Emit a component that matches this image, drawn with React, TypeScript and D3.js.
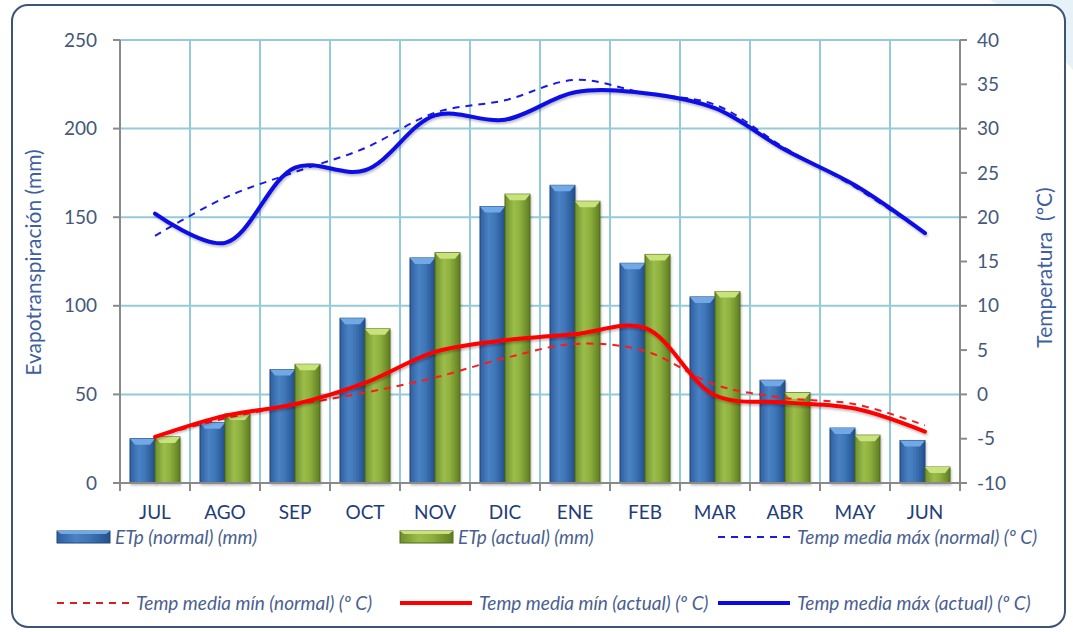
import React, { useRef, useEffect } from "react";
import * as d3 from "d3";

const months = ["JUL", "AGO", "SEP", "OCT", "NOV", "DIC", "ENE", "FEB", "MAR", "ABR", "MAY", "JUN"];
const etpNormal = [25, 34, 64, 93, 127, 156, 168, 124, 105, 58, 31, 24];
const etpActual = [26, 39, 67, 87, 130, 163, 159, 129, 108, 51, 27, 9];
const tMaxNormal = [17.9, 22.2, 25.1, 27.8, 31.8, 33.2, 35.5, 34.0, 32.7, 27.8, 23.4, 18.2];
const tMaxActual = [20.4, 17.1, 25.6, 25.3, 31.5, 31.0, 34.1, 34.0, 32.3, 27.6, 23.6, 18.2];
const tMinNormal = [-4.8, -2.7, -1.2, 0.2, 1.9, 4.1, 5.7, 4.9, 1.1, -0.4, -1.1, -3.5];
const tMinActual = [-4.8, -2.4, -1.1, 1.3, 4.8, 6.1, 6.8, 7.5, -0.1, -0.9, -1.6, -4.2];
const leftTicks = [0, 50, 100, 150, 200, 250];
const rightTicks = [-10, -5, 0, 5, 10, 15, 20, 25, 30, 35, 40];

const W = 1073;
const H = 632;
const margin = { top: 40, left: 120, right: 113, bottom: 149 };
const font = "Lato, 'Open Sans', sans-serif";
const textColor = "#44587a";

const App = () => {
  const ref = useRef<HTMLDivElement>(null);

  useEffect(() => {
    const root = d3.select(ref.current);
    root.selectAll("*").remove();

    const svg = root
      .append("svg")
      .attr("width", W)
      .attr("height", H)
      .style("position", "absolute")
      .style("left", 0)
      .style("top", 0)
      .style("background", "#ffffff");

    const defs = svg.append("defs");
    const grad = (id: string, stops: [number, string][]) => {
      const g = defs.append("linearGradient").attr("id", id).attr("x1", 0).attr("x2", 1).attr("y1", 0).attr("y2", 0);
      stops.forEach(([o, c]) => g.append("stop").attr("offset", o).attr("stop-color", c));
    };
    grad("gBlue", [[0, "#2f5f9f"], [0.35, "#4a82c4"], [0.6, "#3f76b8"], [1, "#24508c"]]);
    grad("gGreen", [[0, "#6f8f2c"], [0.35, "#9bbd4a"], [0.6, "#8eb03e"], [1, "#5f7d22"]]);
    const shadow = defs.append("filter").attr("id", "shadow").attr("x", "-10%").attr("y", "-10%").attr("width", "120%").attr("height", "130%");
    shadow.append("feDropShadow").attr("dx", 1).attr("dy", 2).attr("stdDeviation", 1.2).attr("flood-color", "#000").attr("flood-opacity", 0.25);

    // background decoration and frame
    svg.append("path")
      .attr("d", "M990,0 L1073,0 L1073,70 Q1040,30 990,0 Z")
      .attr("fill", "#e6f2f8");
    svg.append("rect")
      .attr("x", 12).attr("y", 5).attr("width", 1053).attr("height", 622)
      .attr("rx", 16).attr("ry", 16)
      .attr("fill", "#ffffff").attr("stroke", "#3d5476").attr("stroke-width", 2);

    const plotW = W - margin.left - margin.right;
    const plotB = H - margin.bottom;

    const x = d3.scaleBand().domain(months).range([margin.left, margin.left + plotW]).padding(0);
    const xs = d3.scaleBand().domain(["n", "a"]).range([0, x.bandwidth()]).paddingInner(0).paddingOuter(0.4);
    const yL = d3.scaleLinear().domain([0, 250]).range([plotB, margin.top]);
    const yR = d3.scaleLinear().domain([-10, 40]).range([plotB, margin.top]);

    // grid
    const grid = svg.append("g").attr("stroke", "#93cbd7").attr("stroke-width", 2);
    leftTicks.filter((t) => t > 0).forEach((t) => {
      grid.append("line").attr("x1", margin.left).attr("x2", margin.left + plotW).attr("y1", yL(t)).attr("y2", yL(t));
    });
    months.slice(1).forEach((m) => {
      grid.append("line").attr("x1", x(m)!).attr("x2", x(m)!).attr("y1", margin.top).attr("y2", plotB);
    });

    // bars
    const drawBars = (vals: number[], key: string, fill: string, top: string, edge: string) => {
      const g = svg.append("g").attr("filter", "url(#shadow)");
      vals.forEach((v, i) => {
        const bx = x(months[i])! + xs(key)!;
        const bw = xs.bandwidth();
        const by = yL(v);
        const bh = plotB - by;
        g.append("rect").attr("x", bx).attr("y", by).attr("width", bw).attr("height", bh)
          .attr("fill", fill).attr("stroke", edge).attr("stroke-width", 1);
        const bev = Math.min(6, bh / 2);
        g.append("path")
          .attr("d", `M${bx},${by} L${bx + bw},${by} L${bx + bw - 5},${by + bev} L${bx + 5},${by + bev} Z`)
          .attr("fill", top);
      });
    };
    drawBars(etpNormal, "n", "url(#gBlue)", "#6fa9e6", "#21477d");
    drawBars(etpActual, "a", "url(#gGreen)", "#c8e27c", "#4f6a1c");

    // axes
    const axisColor = "#8a8a8a";
    const ax = svg.append("g").attr("stroke", axisColor).attr("stroke-width", 2);
    ax.append("line").attr("x1", margin.left).attr("x2", margin.left).attr("y1", margin.top).attr("y2", plotB + 1);
    ax.append("line").attr("x1", margin.left + plotW).attr("x2", margin.left + plotW).attr("y1", margin.top).attr("y2", plotB + 1);
    ax.append("line").attr("x1", margin.left - 7).attr("x2", margin.left + plotW + 7).attr("y1", plotB).attr("y2", plotB);
    leftTicks.forEach((t) => ax.append("line").attr("x1", margin.left - 7).attr("x2", margin.left).attr("y1", yL(t)).attr("y2", yL(t)));
    rightTicks.forEach((t) => ax.append("line").attr("x1", margin.left + plotW).attr("x2", margin.left + plotW + 7).attr("y1", yR(t)).attr("y2", yR(t)));
    months.forEach((m) => ax.append("line").attr("x1", x(m)!).attr("x2", x(m)!).attr("y1", plotB).attr("y2", plotB + 8));
    ax.append("line").attr("x1", margin.left + plotW).attr("x2", margin.left + plotW).attr("y1", plotB).attr("y2", plotB + 8);

    const labels = svg.append("g").attr("font-family", font).attr("fill", textColor).attr("font-size", 19);
    leftTicks.forEach((t) =>
      labels.append("text").attr("x", 97).attr("y", yL(t)).attr("dy", "0.35em").attr("text-anchor", "end").text(t)
    );
    rightTicks.forEach((t) =>
      labels.append("text").attr("x", 977).attr("y", yR(t)).attr("dy", "0.35em").text(t)
    );
    months.forEach((m) =>
      labels.append("text").attr("x", x(m)! + x.bandwidth() / 2).attr("y", 519).attr("text-anchor", "middle")
        .attr("fill", "#1f3d78").attr("font-size", 19).text(m)
    );
    labels.append("text")
      .attr("transform", `translate(41,${(margin.top + plotB) / 2 + 1}) rotate(-90)`)
      .attr("text-anchor", "middle").attr("fill", "#3f5f9f").attr("font-size", 21).text("Evapotranspiración (mm)");
    labels.append("text")
      .attr("transform", `translate(1052,${(margin.top + plotB) / 2 + 6}) rotate(-90)`)
      .attr("text-anchor", "middle").attr("fill", "#3f5f9f").attr("font-size", 21)
      .style("white-space", "pre").text("Temperatura  (ºC)");

    // temperature lines
    const line = d3.line<number>()
      .x((_, i) => x(months[i])! + x.bandwidth() / 2)
      .y((d) => yR(d))
      .curve(d3.curveCatmullRom.alpha(0.5));
    const lines = svg.append("g").attr("fill", "none").attr("stroke-linecap", "round");
    lines.append("path").attr("d", line(tMinNormal)).attr("stroke", "#ff1a1a").attr("stroke-width", 2).attr("stroke-dasharray", "7,6").attr("stroke-linecap", "butt");
    lines.append("path").attr("d", line(tMaxNormal)).attr("stroke", "#1a1ae6").attr("stroke-width", 2).attr("stroke-dasharray", "7,6").attr("stroke-linecap", "butt");
    lines.append("path").attr("d", line(tMinActual)).attr("stroke", "#ff0000").attr("stroke-width", 4).attr("filter", "url(#shadow)");
    lines.append("path").attr("d", line(tMaxActual)).attr("stroke", "#0a0ae6").attr("stroke-width", 4).attr("filter", "url(#shadow)");

    // legend
    const legend = svg.append("g").attr("font-family", font).attr("font-style", "italic").attr("font-size", 19).attr("fill", "#4a5f8f");
    const items = [
      { x: 57, y: 537, type: "bar", fill: "url(#gBlue)", top: "#6fa9e6", edge: "#21477d", label: "ETp (normal) (mm)" },
      { x: 400, y: 537, type: "bar", fill: "url(#gGreen)", top: "#c8e27c", edge: "#4f6a1c", label: "ETp (actual) (mm)" },
      { x: 718, y: 537, type: "dash", color: "#1a1ae6", label: "Temp media máx (normal) (º C)" },
      { x: 57, y: 603, type: "dash", color: "#d42020", label: "Temp media mín (normal) (º C)" },
      { x: 400, y: 603, type: "solid", color: "#ff0000", label: "Temp media mín (actual) (º C)" },
      { x: 718, y: 603, type: "solid", color: "#0a0ae6", label: "Temp media máx (actual) (º C)" },
    ];
    items.forEach((it: any) => {
      const sw = it.type === "bar" ? 53 : 72;
      if (it.type === "bar") {
        legend.append("rect").attr("x", it.x).attr("y", it.y - 6).attr("width", sw).attr("height", 12)
          .attr("fill", it.fill).attr("stroke", it.edge).attr("stroke-width", 1);
        legend.append("path")
          .attr("d", `M${it.x},${it.y - 6} L${it.x + sw},${it.y - 6} L${it.x + sw - 4},${it.y - 3} L${it.x + 4},${it.y - 3} Z`)
          .attr("fill", it.top);
      } else {
        legend.append("line").attr("x1", it.x).attr("x2", it.x + sw).attr("y1", it.y).attr("y2", it.y)
          .attr("stroke", it.color)
          .attr("stroke-width", it.type === "dash" ? 2 : 4)
          .attr("stroke-dasharray", it.type === "dash" ? "7,6" : null);
      }
      legend.append("text").attr("x", it.x + sw + (it.type === "bar" ? 5 : 7)).attr("y", it.y).attr("dy", "0.35em").text(it.label);
    });

    return () => {
      root.selectAll("*").remove();
    };
  }, []);

  return <div ref={ref}></div>;
};

export default App;
